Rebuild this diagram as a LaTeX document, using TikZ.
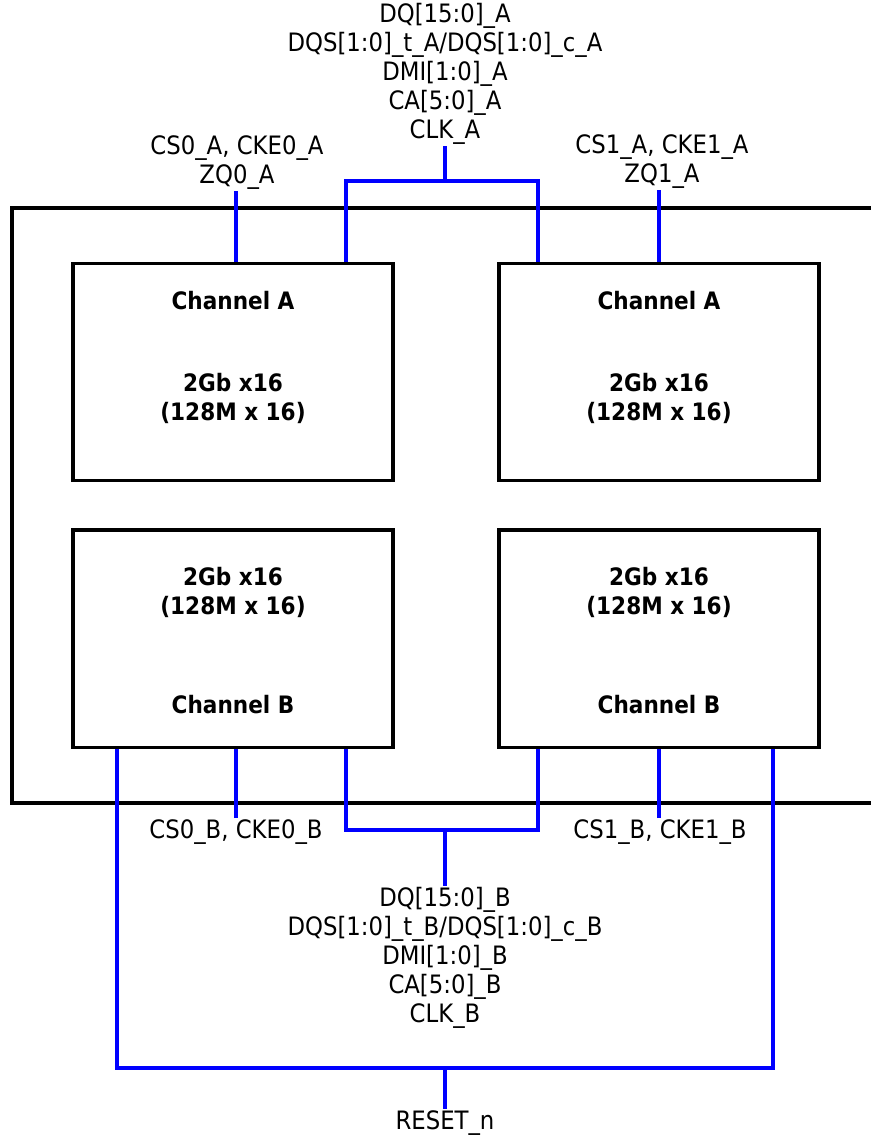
\documentclass[tikz,border=0pt]{standalone}
\usepackage{fontspec}
\setmainfont{DejaVu Sans Condensed}
\usepackage{tikz}
\usetikzlibrary{positioning,calc}
\definecolor{busblue}{RGB}{0,0,255}

\begin{document}
\begin{tikzpicture}[x=0.75pt,y=-0.75pt,
  chip/.style={draw,line width=2.5pt,minimum width=240pt,minimum height=163pt,inner sep=0pt},
  chiptext/.style={align=center,inner sep=1pt,font=\bfseries\fontsize{18}{22}\selectfont},
  sig/.style={align=center,inner sep=1pt,font=\fontsize{19}{21.75}\selectfont},
  bus/.style={busblue,line width=2.3pt}]
  \useasboundingbox (0,0) rectangle (871,1136);
  % package outline (open on the right)
  \draw[line width=2.5pt] (871,208) -| (12,803) -- (871,803);
  % the four dies
  \node[chip] (a0) at (233,372) {};
  \node[chip] (a1) at (659,372) {};
  \node[chip] (b0) at (233,638.5) {};
  \node[chip] (b1) at (659,638.5) {};
  \node[chiptext] (a0ch) at ($(a0.north)+(0,39)$) {Channel A};
  \node[chiptext] (a1ch) at ($(a1.north)+(0,39)$) {Channel A};
  \node[chiptext] (a0sz) at ($(a0.north)+(0,137)$) {2Gb x16\\(128M x 16)};
  \node[chiptext] (a1sz) at ($(a1.north)+(0,137)$) {2Gb x16\\(128M x 16)};
  \node[chiptext] (b0sz) at ($(b0.north)+(0,64)$) {2Gb x16\\(128M x 16)};
  \node[chiptext] (b1sz) at ($(b1.north)+(0,64)$) {2Gb x16\\(128M x 16)};
  \node[chiptext] (b0ch) at ($(b0.south)+(0,-44)$) {Channel B};
  \node[chiptext] (b1ch) at ($(b1.south)+(0,-44)$) {Channel B};
  % signal names
  \node[sig] (siga) at (445,74) {DQ[15:0]\_A\\DQS[1:0]\_t\_A/DQS[1:0]\_c\_A\\DMI[1:0]\_A\\CA[5:0]\_A\\CLK\_A};
  \node[sig] (cs0a) at (237,163) {CS0\_A, CKE0\_A\\ZQ0\_A};
  \node[sig] (cs1a) at (662,162) {CS1\_A, CKE1\_A\\ZQ1\_A};
  \node[sig] (cs0b) at (236,832) {CS0\_B, CKE0\_B};
  \node[sig] (cs1b) at (660,832) {CS1\_B, CKE1\_B};
  \node[sig] (sigb) at (445,958) {DQ[15:0]\_B\\DQS[1:0]\_t\_B/DQS[1:0]\_c\_B\\DMI[1:0]\_B\\CA[5:0]\_B\\CLK\_B};
  \node[sig] (rst) at (445,1123) {RESET\_n};
  % bus joints
  \coordinate (topj) at (445,181);
  \coordinate (ta) at ($(a0.north)+(113,0)$);
  \coordinate (tb) at ($(a1.north)+(-121,0)$);
  \coordinate (botj) at (445,830);
  \coordinate (ba) at ($(b0.south)+(113,0)$);
  \coordinate (bb) at ($(b1.south)+(-121,0)$);
  \coordinate (rstj) at (445,1068);
  \coordinate (ra) at ($(b0.south)+(-116,0)$);
  \coordinate (rb) at ($(b1.south)+(114,0)$);
  % connections
  \draw[bus] (siga.south) -- (topj);
  \draw[bus] (ta) |- (topj) -| (tb);
  \draw[bus] ([xshift=-0.75pt]cs0a.south) -- ([xshift=-0.75pt]cs0a.south |- a0.north);
  \draw[bus] ([xshift=-2.25pt]cs1a.south) -- ([xshift=-2.25pt]cs1a.south |- a1.north);
  \draw[bus] (ba) |- (botj) -| (bb);
  \draw[bus] (botj) -- (sigb.north);
  \draw[bus] (cs0b.north -| cs0b) -- (cs0b |- b0.south);
  \draw[bus] ([xshift=-0.75pt]cs1b.north) -- ([xshift=-0.75pt]cs1b.north |- b1.south);
  \draw[bus] (ra) |- (rstj) -| (rb);
  \draw[bus] (rstj) -- (rst.north);
\end{tikzpicture}
\end{document}
